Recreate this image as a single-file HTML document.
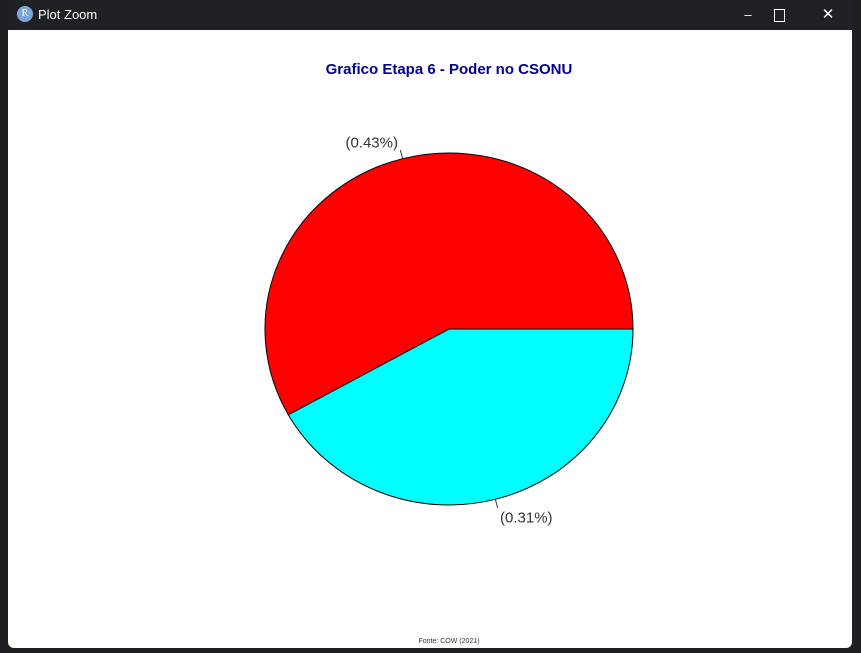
<!DOCTYPE html>
<html><head><meta charset="utf-8"><style>
html,body{margin:0;padding:0;width:861px;height:653px;overflow:hidden;background:#1e1f22;font-family:"Liberation Sans",sans-serif}
#titlebar{position:absolute;left:8px;top:0;width:844px;height:30px;background:#202124;color:#fff;font-size:13px}
#win{position:absolute;left:8px;top:30px;width:844px;height:618px;background:#fff;border-radius:0 0 6px 6px}
</style></head><body>
<div id="titlebar">
 <div style="position:absolute;left:9px;top:6px;width:16px;height:16px;border-radius:8px;background:#7aa6da;color:#fff;font-size:10px;text-align:center;line-height:16px;font-family:'Liberation Serif',serif">R</div>
 <div style="position:absolute;left:30px;top:7px">Plot Zoom</div>
 <div style="position:absolute;left:720px;top:0;width:40px;height:30px;text-align:center;line-height:30px">&#8211;</div>
 <div style="position:absolute;left:766px;top:9px;width:9px;height:11px;border:1px solid #fff"></div>
 <div style="position:absolute;left:805px;top:0;width:30px;height:30px;text-align:center;line-height:30px;font-size:15px">&#10005;</div>
</div>
<div id="win"></div>
<svg id="chart" width="861" height="653" style="position:absolute;left:0;top:0">
 <text x="449" y="74" text-anchor="middle" font-size="15" font-weight="bold" fill="#00008b" font-family="Liberation Sans, sans-serif">Grafico Etapa 6 - Poder no CSONU</text>
 <text x="449" y="643" text-anchor="middle" font-size="7" fill="#333" font-family="Liberation Sans, sans-serif">Fonte: COW (2021)</text>
</svg>
<script>
const labels = ["(0.43%)", "(0.31%)"];
const values = [0.43, 0.31];
const colors = ["#ff0000", "#00ffff"];
const svg = document.getElementById('chart');
const cx = 449, cy = 329, rx = 184, ry = 176;
const NS = 'http://www.w3.org/2000/svg';
const total = values.reduce((a,b)=>a+b,0);
function pt(a, k){ return [cx + k*rx*Math.cos(a), cy - k*ry*Math.sin(a)]; }
let start = 0;
values.forEach((v,i)=>{
  const sweep = v/total*2*Math.PI;
  const end = start + sweep;
  const p0 = pt(start,1), p1 = pt(end,1);
  const large = sweep > Math.PI ? 1 : 0;
  const path = document.createElementNS(NS,'path');
  path.setAttribute('d', `M${cx},${cy} L${p0[0]},${p0[1]} A${rx},${ry} 0 ${large} 0 ${p1[0]},${p1[1]} Z`);
  path.setAttribute('fill', colors[i]);
  path.setAttribute('stroke', '#000');
  path.setAttribute('stroke-width', '1');
  
  
  svg.appendChild(path);
  const mid = start + sweep/2;
  const a = pt(mid,1), b = pt(mid,1.05), c = pt(mid,1.1);
  const ln = document.createElementNS(NS,'line');
  ln.setAttribute('x1', a[0]); ln.setAttribute('y1', a[1]);
  ln.setAttribute('x2', b[0]); ln.setAttribute('y2', b[1]);
  ln.setAttribute('stroke', '#333');
  
  
  svg.appendChild(ln);
  const t = document.createElementNS(NS,'text');
  t.setAttribute('x', c[0]); t.setAttribute('y', c[1] + 6);
  t.setAttribute('text-anchor', Math.cos(mid) < 0 ? 'end' : 'start');
  t.setAttribute('font-size', '15');
  t.setAttribute('fill', '#333');
  t.setAttribute('font-family', 'Liberation Sans, sans-serif');
  t.textContent = labels[i];
  
  
  svg.appendChild(t);
  start = end;
});
</script>
</body></html>
